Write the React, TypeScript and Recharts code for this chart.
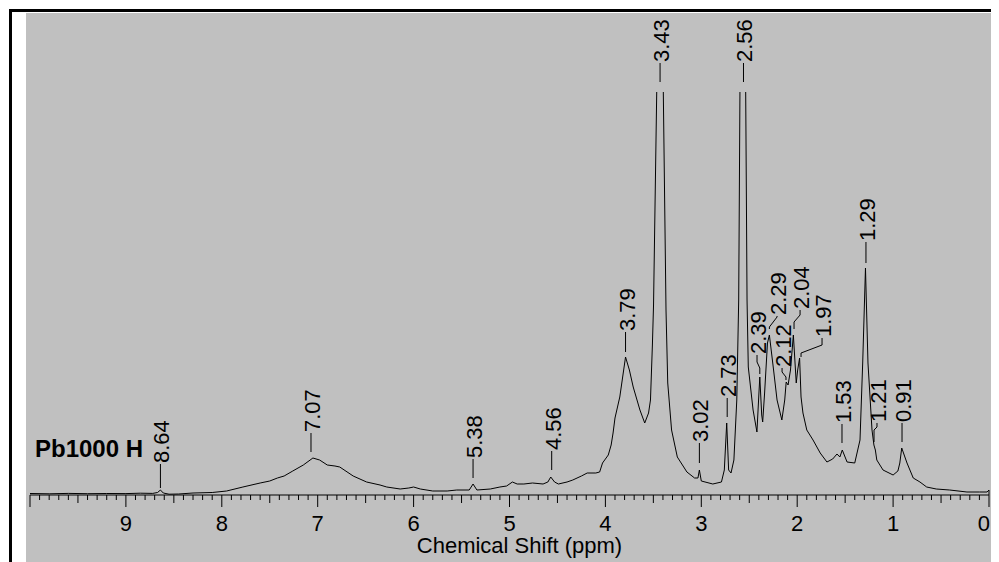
import {
  LineChart,
  Line,
  XAxis,
  YAxis,
  ReferenceLine,
  ReferenceDot,
} from 'recharts';

// spectrum (ppm, intensity in arbitrary units)
const shifts = [
  10.0, 9.8, 9.6, 9.4, 9.2, 9.0, 8.85, 8.72, 8.67, 8.64, 8.61, 8.55, 8.45, 8.3, 8.1,
  7.95, 7.78, 7.6, 7.5, 7.42, 7.35, 7.26, 7.15, 7.05, 6.98, 6.9, 6.82, 6.77, 6.63,
  6.49, 6.35, 6.28, 6.14, 6.05, 6.0, 5.93, 5.8, 5.65, 5.55, 5.42, 5.38, 5.34, 5.2,
  5.1, 5.03, 4.97, 4.92, 4.85, 4.76, 4.65, 4.6, 4.57, 4.53, 4.49, 4.4, 4.34, 4.25,
  4.19, 4.1, 4.06, 4.03, 3.97, 3.94, 3.92, 3.9, 3.85, 3.79, 3.75, 3.71, 3.64, 3.59,
  3.55, 3.53, 3.51, 3.498, 3.465, 3.428, 3.396, 3.368, 3.35, 3.31, 3.25, 3.15, 3.07,
  3.035, 3.02, 3.0, 2.88, 2.79, 2.76, 2.735, 2.715, 2.69, 2.66, 2.63, 2.61, 2.597,
  2.565, 2.537, 2.523, 2.51, 2.46, 2.42, 2.4, 2.39, 2.37, 2.36, 2.34, 2.31, 2.29,
  2.25, 2.21, 2.16, 2.13, 2.115, 2.095, 2.07, 2.04, 2.01, 1.995, 1.975, 1.96, 1.94,
  1.9, 1.835, 1.76, 1.69, 1.63, 1.585, 1.555, 1.53, 1.48, 1.4, 1.345, 1.317, 1.288,
  1.262, 1.22, 1.2, 1.185, 1.17, 1.105, 1.0, 0.95, 0.93, 0.91, 0.855, 0.79, 0.72,
  0.65, 0.55, 0.41, 0.23, 0.1, 0.02, 0.0,
];

const intensity = [
  1.5, 1.2, 1.6, 1.3, 1.5, 1.4, 1.8, 1.6, 2.5, 5, 2, 0.8, 1, 2, 2.5,
  4, 8, 12, 14, 17, 19, 24, 30, 37, 35, 30, 29, 28, 19,
  13, 10, 8, 6, 7, 8, 6, 4, 4, 5, 5, 11, 5, 6,
  8, 9, 13, 11, 11, 12, 11, 13, 18, 13, 11, 13, 15, 19,
  22, 22, 23, 32, 40, 50, 62, 77, 98, 138, 125, 108, 85, 72,
  82, 95, 150, 190, 402, 720, 402, 185, 112, 65, 38, 23, 17,
  17, 25, 14, 11, 13, 25, 72, 25, 22, 35, 95, 195, 403,
  720, 403, 195, 128, 85, 63, 100, 118, 80, 73, 102, 152, 160,
  128, 95, 75, 95, 113, 110, 125, 160, 112, 125, 137, 98, 82,
  65, 55, 42, 33, 36, 41, 38, 45, 33, 32, 55, 132, 227,
  132, 65, 50, 45, 35, 25, 20, 24, 32, 47, 32, 17, 13,
  8, 6, 5, 3, 3, 3, 5,
];

// peak picking labels
const peakNames = [
  '8.64', '7.07', '5.38', '4.56', '3.79', '3.43', '3.02', '2.73', '2.56',
  '2.39', '2.29', '2.12', '2.04', '1.97', '1.53', '1.29', '1.21', '0.91',
];
const peakShift = [
  8.64, 7.07, 5.38, 4.56, 3.79, 3.43, 3.02, 2.73, 2.56,
  2.39, 2.29, 2.117, 2.033, 1.96, 1.533, 1.283, 1.199, 0.907,
];
const textShift = [
  8.64, 7.07, 5.38, 4.56, 3.79, 3.43, 3.02, 2.73, 2.56,
  2.419, 2.21, 2.158, 1.97, 1.741, 1.533, 1.283, 1.168, 0.907,
];
const leaderFrom = [7, 43, 17, 25, 143, 413, 32, 78, 413, 121, 166, 115, 166, 138, 52, 232, 53, 53];
const leaderTo = [31, 62, 36, 44, 163, 432, 52, 97, 432, 140, 179, 127, 185, 157, 71, 253, 72, 72];
const bendLow = [null, null, null, null, null, null, null, null, null, 127, 168, 118, 173, 142, null, null, 65, null];
const bendHigh = [null, null, null, null, null, null, null, null, null, 133, 178, 123, 180, 150, null, null, 68, null];

const majorLabels = ['0', '1', '2', '3', '4', '5', '6', '7', '8', '9'];
const axisTicks = Array.from({ length: 101 }, (_, i) => i / 10);

const data = shifts.map((s, i) => ({ ppm: s, value: intensity[i] }));

const FONT = "'Liberation Sans', Arial, sans-serif";

function ShiftTick({ x, y, payload }: any) {
  const step = Math.round(payload.value * 10);
  const major = step % 10 === 0;
  const len = major ? 12 : step % 5 === 0 ? 8 : 5;
  const label = major ? majorLabels[step / 10] : undefined;
  // the 0 label is pulled inside the frame
  const last = step === 0;
  return (
    <g>
      <line x1={x} x2={x} y1={last ? y - 5 : y} y2={y + len} stroke="#000" strokeWidth={1} />
      {label && (
        <text
          x={last ? x + 1 : x}
          y={y + 36}
          textAnchor={last ? 'end' : 'middle'}
          fontSize={22}
          fontFamily={FONT}
          fill="#000"
        >
          {label}
        </text>
      )}
    </g>
  );
}

function peakText(name: string) {
  return (props: any) => {
    const x = props.cx + 1.5;
    const y = props.cy;
    return (
      <text
        x={x}
        y={y}
        transform={`rotate(-90 ${x} ${y})`}
        textAnchor="start"
        dominantBaseline="central"
        fontSize={22}
        fontFamily={FONT}
        fill="#000"
      >
        {name}
      </text>
    );
  };
}

export default function App() {
  const leaders: any[] = [];
  peakNames.forEach((name, i) => {
    const lo = bendLow[i];
    const hi = bendHigh[i];
    const pts =
      lo == null || hi == null
        ? [
            { x: peakShift[i], y: leaderFrom[i] },
            { x: textShift[i], y: leaderTo[i] },
          ]
        : [
            { x: peakShift[i], y: leaderFrom[i] },
            { x: peakShift[i], y: lo },
            { x: textShift[i], y: hi },
            { x: textShift[i], y: leaderTo[i] },
          ];
    for (let k = 0; k < pts.length - 1; k++) {
      leaders.push(
        <ReferenceLine
          key={`${name}-${k}`}
          segment={[pts[k], pts[k + 1]]}
          stroke="#000"
          strokeWidth={1}
          ifOverflow="visible"
        />
      );
    }
  });

  return (
    <div style={{ position: 'relative', width: 991, height: 554, fontFamily: FONT }}>
      <div style={{ position: 'absolute', left: 1, top: 1, width: 990, height: 3, background: '#000' }} />
      <div style={{ position: 'absolute', left: 1, top: 1, width: 3, height: 553, background: '#000' }} />
      <div style={{ position: 'absolute', left: 18, top: 5, width: 966, height: 549, background: '#c0c0c0' }} />
      <svg style={{ position: 'absolute', left: 0, top: 0 }} width={991} height={554}>
        <text x={27} y={449} fontSize={24} fontWeight="bold" fontFamily={FONT} fill="#000">
          Pb1000 H
        </text>
      </svg>
      <div style={{ position: 'absolute', left: 0, top: 0 }}>
        <LineChart
          width={991}
          height={554}
          data={data}
          margin={{ top: 84, right: 10, left: 22, bottom: 8 }}
        >
          <XAxis
            dataKey="ppm"
            type="number"
            domain={[0, 10]}
            allowDataOverflow
            reversed
            ticks={axisTicks}
            interval={0}
            tick={<ShiftTick />}
            tickLine={false}
            tickSize={0}
            tickMargin={0}
            axisLine={{ stroke: '#000', strokeWidth: 1 }}
            height={59}
            label={{
              content: ({ viewBox }: any) => (
                <text
                  x={viewBox.x + viewBox.width / 2 + 10}
                  y={viewBox.y + 58}
                  textAnchor="middle"
                  fontSize={22}
                  fontFamily={FONT}
                  fill="#000"
                >
                  Chemical Shift (ppm)
                </text>
              ),
            }}
          />
          <YAxis hide type="number" domain={[0, 403]} allowDataOverflow />
          <Line
            type="linear"
            dataKey="value"
            stroke="#000"
            strokeWidth={1}
            dot={false}
            activeDot={false}
            isAnimationActive={false}
          />
          {leaders}
          {peakNames.map((name, i) => (
            <ReferenceDot
              key={name}
              x={textShift[i]}
              y={leaderTo[i] + 1}
              r={0}
              ifOverflow="visible"
              shape={peakText(name)}
            />
          ))}
        </LineChart>
      </div>
    </div>
  );
}
